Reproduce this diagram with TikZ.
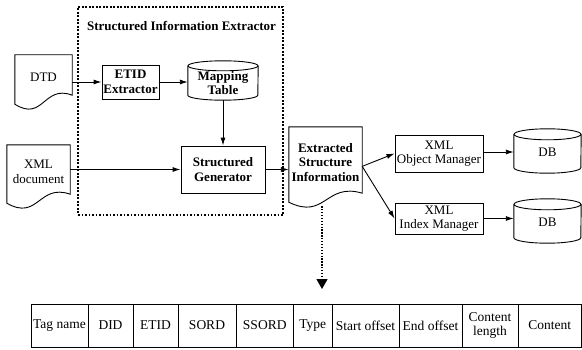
\documentclass[tikz,border=0pt]{standalone}
\usepackage{fontspec}
\setmainfont{Liberation Serif}
\usetikzlibrary{arrows.meta,calc}
\tikzset{
  txt/.style={font=\fontsize{13}{14.5}\selectfont, align=center, inner sep=0pt},
  boldtxt/.style={txt, font=\fontsize{13}{14.5}\selectfont\bfseries},
  box/.style={draw, line width=0.9pt},
  conn/.style={line width=0.9pt, -{Latex[length=8pt,width=5pt]}},
  dotconn/.style={line width=1.3pt, dash pattern=on 1.3pt off 1.6pt, -{Triangle[length=10pt,width=11pt]}},
  groupbox/.style={draw, line width=1.8pt, dash pattern=on 1.8pt off 1.7pt, inner sep=0pt},
  cell/.style={draw, line width=0.8pt, minimum height=43pt, inner sep=0pt, align=center,
    font=\fontsize{13.5}{14}\selectfont},
}
\newcommand\docoutline[1]{%
  \draw[line width=0.9pt] (#1.north west) -- (#1.north east) -- ($(#1.south east)+(0,5)$)
    .. controls ($(#1.south)+(0,16)$) and ($(#1.south)+(0,-22)$) .. ($(#1.south west)+(0,-4)$) -- cycle;}
% name, x radius, y radius, upward offset of the outline
\newcommand\cylout[4]{%
  \draw[line width=0.9pt] ($(#1.north west)+(0,#4-#3)$) -- ($(#1.south west)+(0,#4+#3)$)
    arc[start angle=180,end angle=360,x radius=#2,y radius=#3] -- ($(#1.north east)+(0,#4-#3)$);
  \draw[line width=0.9pt] ($(#1.north)+(0,#4-#3)$) ellipse[x radius=#2,y radius=#3];}
\begin{document}
\begin{tikzpicture}[x=1pt,y=1pt]
\useasboundingbox (0,0) rectangle (582,349);
% group box
\node[groupbox, minimum width=205pt, minimum height=208pt] (sie) at (180.5,238) {};
\node[boldtxt, anchor=north] (sietitle) at ($(sie.north)+(1,-15)$) {Structured Information Extractor};
% documents
\node[txt, minimum width=57pt, minimum height=45pt] (dtd) at (43.5,271.5) {DTD};
\docoutline{dtd}
\node[txt, minimum width=63pt, minimum height=54pt] (xml) at (38.5,177) {XML\\document};
\docoutline{xml}
\node[boldtxt, minimum width=73pt, minimum height=71pt] (ext) at (325.5,186.5) {Extracted\\Structure\\Information};
\docoutline{ext}
% boxes
\node[boldtxt, box, minimum width=57pt, minimum height=34pt] (etid) at (130.5,267) {ETID\\Extractor};
\node[boldtxt, minimum width=70pt, minimum height=39pt] (map) at (223,266) {Mapping\\Table};
\cylout{map}{35pt}{5pt}{2.5}
\node[boldtxt, box, minimum width=84pt, minimum height=47pt] (sg) at (223,179.5) {Structured\\Generator};
\node[txt, box, minimum width=88pt, minimum height=37pt] (obj) at (439,195.5) {XML\\Object Manager};
\node[txt, box, minimum width=88pt, minimum height=31pt] (idx) at (439,130.5) {XML\\Index Manager};
\node[txt, minimum width=67pt, minimum height=44pt] (db1) at (547.5,197) {DB};
\cylout{db1}{33.5pt}{5.5pt}{1}
\node[txt, minimum width=67pt, minimum height=44pt] (db2) at (547.5,127) {DB};
\cylout{db2}{33.5pt}{5.5pt}{1}
% connectors
\draw[conn] (dtd.east |- etid.west) -- (etid.west);
\draw[conn] (etid.east) -- (map.west |- etid.east);
\draw[conn] ($(map.south)+(0,2.5)$) -- (sg.north);
\draw[conn] (xml.east |- sg.west) -- (sg.west);
\draw[conn] (sg.east) -- (ext.west |- sg.east);
\draw[conn] (ext.-6) -- (obj.west);
\draw[conn] (ext.-6) -- (idx.west);
\draw[conn] (obj.east |- db1.west) -- (db1.west);
\draw[conn] (idx.east) -- (db2.west |- idx.east);
% dotted arrow to table
\coordinate (dstart) at ($(ext.south)+(-3.5,-8)$);
\coordinate (dtip) at (322,60);
\draw[dotconn] (dstart) -- (dtip);
% table
\node[cell, minimum width=57pt]   (c1)  at (59.5,23.5)  {Tag name};
\node[cell, minimum width=45pt]   (c2)  at (110.5,23.5) {DID};
\node[cell, minimum width=45pt]   (c3)  at (155.5,23.5) {ETID};
\node[cell, minimum width=58pt]   (c4)  at (207,23.5)   {SORD};
\node[cell, minimum width=57.5pt] (c5)  at (264.75,23.5) {SSORD};
\node[cell, minimum width=38.5pt] (c6)  at (312.75,23.5) {Type};
\node[cell, minimum width=67pt]   (c7)  at (365.5,23.5) {Start offset};
\node[cell, minimum width=63pt]   (c8)  at (430.5,23.5) {End offset};
\node[cell, minimum width=56pt]   (c9)  at (490,23.5)   {Content\\length};
\node[cell, minimum width=63.5pt] (c10) at (549.75,23.5) {Content};
\end{tikzpicture}
\end{document}
